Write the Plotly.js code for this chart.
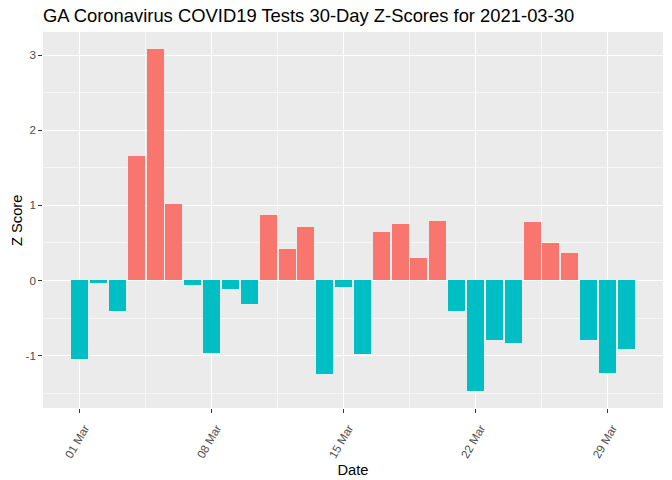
<!DOCTYPE html>
<html>
<head>
<meta charset="utf-8">
<script src="https://cdn.plot.ly/plotly-3.0.1.min.js"></script>
<style>html,body{margin:0;padding:0;background:#fff;}#chart{width:672px;height:480px;}</style>
</head>
<body>
<div id="chart"></div>
<script>
const dates = ["2021-03-01","2021-03-02","2021-03-03","2021-03-04","2021-03-05","2021-03-06","2021-03-07","2021-03-08","2021-03-09","2021-03-10","2021-03-11","2021-03-12","2021-03-13","2021-03-14","2021-03-15","2021-03-16","2021-03-17","2021-03-18","2021-03-19","2021-03-20","2021-03-21","2021-03-22","2021-03-23","2021-03-24","2021-03-25","2021-03-26","2021-03-27","2021-03-28","2021-03-29","2021-03-30"];
const zscores = [-1.044,-0.035,-0.407,1.659,3.080,1.022,-0.062,-0.965,-0.115,-0.314,0.876,0.425,0.717,-1.243,-0.088,-0.978,0.650,0.757,0.305,0.796,-0.412,-1.469,-0.792,-0.832,0.783,0.504,0.372,-0.792,-1.230,-0.912];
const xTickVals = ["2021-03-01","2021-03-08","2021-03-15","2021-03-22","2021-03-29"];
const xTickText = ["01 Mar","08 Mar","15 Mar","22 Mar","29 Mar"];
const xMinorVals = ["2021-03-04 12:00","2021-03-11 12:00","2021-03-18 12:00","2021-03-25 12:00"];
const yTickVals = [-1,0,1,2,3];
const yMinorVals = [-1.5,-0.5,0.5,1.5,2.5];
const posColor = "#F8766D", negColor = "#00BFC4";

const DAY = 86400000;
const t0 = new Date("2021-03-01T00:00:00Z").getTime();
const t1 = new Date("2021-03-30T00:00:00Z").getTime();
const pad = 1.945 * DAY;
function fmt(ms){ return new Date(ms).toISOString().replace("T"," ").replace("Z",""); }

const trace = {
  type: "bar",
  x: dates,
  y: zscores,
  width: dates.map(() => 0.9 * DAY),
  marker: { color: zscores.map(v => v >= 0 ? posColor : negColor), line: {width: 0} },
  hoverinfo: "none",
  showlegend: false
};

const font = "Liberation Sans, Arial, sans-serif";
const W = 672, H = 480, ML = 43, MR = 9;
const layout = {
  width: W, height: H,
  margin: { l: ML, r: MR, t: 32, b: 72 },
  paper_bgcolor: "#FFFFFF",
  plot_bgcolor: "#EBEBEB",
  font: { family: font, color: "#000000" },
  bargap: 0,
  title: { text: "GA Coronavirus COVID19 Tests 30-Day Z-Scores for 2021-03-30", x: 43/W, xanchor: "left", y: 1 - 15.5/H, yanchor: "middle", font: { size: 18.4, family: font, color: "#000000" } },
  xaxis: {
    type: "date",
    range: [fmt(t0 - pad), fmt(t1 + pad)],
    tickmode: "array", tickvals: xTickVals, ticktext: xTickText,
    tickangle: -60,
    ticklabelshift: 5,
    ticklabelstandoff: 4,
    tickfont: { size: 11.7, color: "#4D4D4D", family: font },
    ticks: "outside", ticklen: 3.7, tickcolor: "#333333", tickwidth: 1.07,
    showgrid: true, gridcolor: "#FFFFFF", gridwidth: 1.07,
    minor: { tickmode: "array", tickvals: xMinorVals, showgrid: true, gridcolor: "#FFFFFF", gridwidth: 0.53, ticks: "" },
    zeroline: false, showline: false,
    title: { text: "Date", font: { size: 14.7, family: font, color: "#000000" } },
    fixedrange: true
  },
  yaxis: {
    range: [-1.697, 3.307],
    tickmode: "array", tickvals: yTickVals, ticktext: yTickVals.map(String),
    tickfont: { size: 11.7, color: "#4D4D4D", family: font },
    ticks: "outside", ticklen: 3.7, tickcolor: "#333333", tickwidth: 1.07,
    showgrid: true, gridcolor: "#FFFFFF", gridwidth: 1.07,
    minor: { tickmode: "array", tickvals: yMinorVals, showgrid: true, gridcolor: "#FFFFFF", gridwidth: 0.53, ticks: "" },
    zeroline: false, showline: false,
    fixedrange: true
  },
  annotations: [{
    text: "Z Score", xref: "paper", yref: "paper",
    x: (17 - ML) / (W - ML - MR), y: 0.5, xanchor: "center", yanchor: "middle",
    textangle: -90, showarrow: false,
    font: { size: 14.7, family: font, color: "#000000" }
  }]
};

Plotly.newPlot("chart", [trace], layout, { displayModeBar: false, staticPlot: true });
</script>
</body>
</html>
